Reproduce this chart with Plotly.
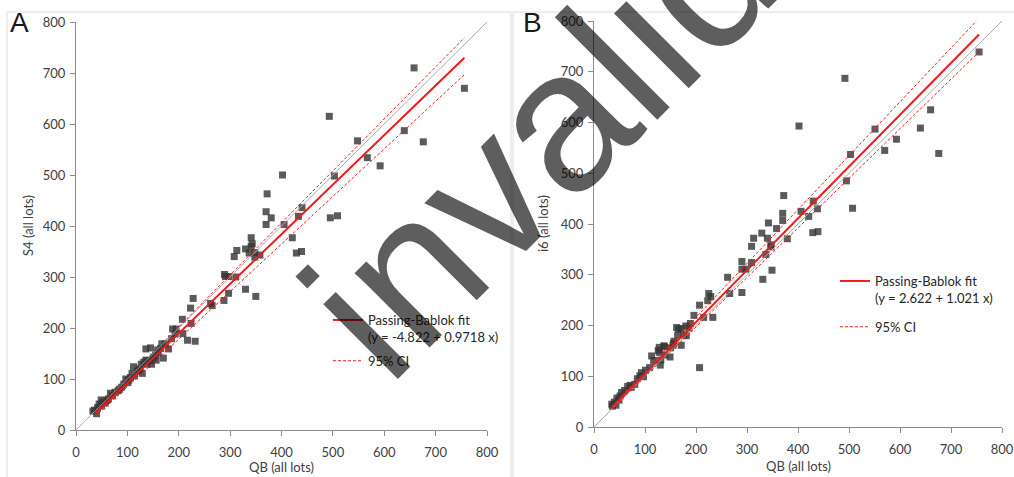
import plotly.graph_objects as go

# the page body margin is removed after plotting (see post_script), so positions are window pixels
W, H = 1014, 477

# Panel A: QB vs S4 (all lots)
qb_a = [658, 756, 493, 548, 639, 676, 567, 592, 503, 402, 372, 370, 380, 440, 433, 495, 509, 370, 405, 341, 421, 439, 429,
        343, 341, 308, 313, 330, 337, 348, 358, 348, 289, 291, 297, 311, 330, 350, 288, 297, 262, 265, 228, 223, 224, 232,
        217, 207, 208, 195, 188, 180, 167, 174, 170, 186, 136, 145,
        193, 159, 155, 151, 156, 144, 136, 132, 127, 138, 147, 112, 122, 129, 109, 114, 106, 97, 101, 93, 89, 82, 76, 67,
        71, 63, 57, 49, 45, 50, 42, 36, 33, 40, 120, 125, 140, 150, 160, 165, 102, 85, 60, 53]
s4_a = [710, 670, 615, 567, 587, 565, 534, 518, 498, 500, 463, 428, 416, 436, 419, 416, 420, 403, 403, 377, 377, 350, 347,
        365, 360, 340, 352, 355, 347, 348, 343, 339, 305, 301, 301, 300, 276, 262, 254, 268, 248, 244, 258, 239, 209, 174,
        176, 217, 189, 198, 198, 159, 169, 169, 141, 179, 159, 161,
        188, 157, 147, 143, 137, 135, 137, 133, 129, 129, 129, 124, 118, 111, 111, 106, 103, 100, 93, 90, 84, 77, 74, 72,
        67, 61, 53, 59, 51, 47, 44, 39, 37, 32, 115, 120, 135, 140, 152, 160, 98, 80, 58, 55]

# Panel B: QB vs i6 (all lots)
qb_b = [755, 492, 402, 660, 640, 551, 593, 570, 676, 503, 495, 507, 372, 430, 406, 370, 438, 421, 342, 370, 329, 358, 429,
        439, 313, 340, 379,
        347, 347, 309, 337, 290, 309, 290, 298, 349, 262, 331, 266, 290, 225, 229, 223, 207, 196, 215, 233,
        207, 186, 171, 181, 162, 166, 164, 157, 156, 155, 150, 149, 137, 138, 128, 128, 126, 139, 131, 130, 113, 117, 109,
        101, 93, 90, 97, 85, 80, 71, 66, 73, 60, 54, 51, 45, 49, 40, 35, 36, 43, 189, 180, 171, 176]
i6_b = [739, 687, 593, 625, 589, 587, 567, 545, 539, 537, 485, 431, 456, 445, 425, 421, 430, 415, 402, 407, 382, 391, 383,
        385, 372, 372, 371,
        359, 355, 356, 340, 326, 324, 311, 311, 309, 295, 291, 263, 265, 263, 257, 249, 240, 220, 216, 216,
        117, 195, 161, 180, 196, 193, 181, 169, 165, 161, 156, 138, 160, 158, 147, 157, 151, 142, 132, 122, 140, 131, 117,
        112, 107, 101, 99, 95, 84, 82, 80, 78, 72, 68, 61, 57, 53, 49, 45, 41, 43, 204, 199, 194, 181]

# Passing-Bablok fits (intercept, slope) and 95% CI bands
fit_a = (-4.822, 0.9718)
ci_hi_a = (-1.7, 1.0195)
ci_lo_a = (-8.5, 0.933)
span_a = [37, 756]
fit_b = (2.622, 1.021)
ci_hi_b = (3.8, 1.0615)
ci_lo_b = (1.5, 0.977)
span_b = [35, 755]
identity = [0, 800]

label_a = "Passing-Bablok fit<br>(y = -4.822 + 0.9718 x)"
label_b = "Passing-Bablok fit<br>(y = 2.622 + 1.021 x)"

POINT = "rgba(53,53,53,0.81)"
RED = "#ee1c1c"
FONT = "Lato"
TEXT = "#404040"


def px(x):
    return x / W


def py(y):
    return 1 - y / H


def line_y(coef, xs):
    return [coef[0] + coef[1] * x for x in xs]


fig = go.Figure()

panels = [
    ("x", "y", "legend", qb_a, s4_a, fit_a, ci_hi_a, ci_lo_a, span_a, label_a),
    ("x2", "y2", "legend2", qb_b, i6_b, fit_b, ci_hi_b, ci_lo_b, span_b, label_b),
]
for xa, ya, leg, xs, ys, fit, hi, lo, span, label in panels:
    fig.add_trace(go.Scatter(x=xs, y=ys, mode="markers", xaxis=xa, yaxis=ya, showlegend=False,
                             marker={"symbol": "square", "size": 7, "color": POINT, "line": {"width": 0}}))
    fig.add_trace(go.Scatter(x=identity, y=identity, mode="lines", xaxis=xa, yaxis=ya, showlegend=False,
                             line={"color": "#a9a9a9", "width": 1}))
    fig.add_trace(go.Scatter(x=span, y=line_y(fit, span), mode="lines", xaxis=xa, yaxis=ya, name=label,
                             legend=leg, legendgroup="fit", line={"color": RED, "width": 2}))
    fig.add_trace(go.Scatter(x=span, y=line_y(hi, span), mode="lines", xaxis=xa, yaxis=ya, name="95% CI",
                             legend=leg, legendgroup="ci", line={"color": RED, "width": 1, "dash": "3px,2px"}))
    fig.add_trace(go.Scatter(x=span, y=line_y(lo, span), mode="lines", xaxis=xa, yaxis=ya, showlegend=False,
                             legendgroup="ci", line={"color": RED, "width": 1, "dash": "3px,2px"}))

axis_style = {
    "range": [0, 800],
    "dtick": 100,
    "showgrid": False,
    "zeroline": False,
    "showline": True,
    "linecolor": "#8c8c8c",
    "linewidth": 1,
    "ticks": "outside",
    "ticklen": 5,
    "tickcolor": "#8c8c8c",
    "automargin": False,
    "ticklabeloverflow": "allow",
    "tickfont": {"family": FONT, "size": 13, "color": TEXT},
}
legend_style = {
    "xanchor": "left",
    "yanchor": "top",
    "bgcolor": "rgba(0,0,0,0)",
    "font": {"family": FONT, "size": 13, "color": "#262626"},
    "valign": "top",
    "traceorder": "grouped",
}


def paper_text(text, x, y, size=13, angle=0, family=FONT, color=TEXT, xanchor="center"):
    return {"text": text, "xref": "paper", "yref": "paper", "x": px(x), "y": py(y), "xanchor": xanchor,
            "yanchor": "middle", "textangle": angle, "showarrow": False,
            "font": {"family": family, "size": size, "color": color}}


fig.update_layout(
    width=W,
    height=H,
    margin={"l": 0, "r": 0, "t": 0, "b": 0},
    plot_bgcolor="white",
    paper_bgcolor="white",
    hovermode=False,
    xaxis={**axis_style, "domain": [px(76), px(487)], "anchor": "y", "ticklabelstandoff": 5},
    yaxis={**axis_style, "domain": [py(430), py(22)], "anchor": "x", "ticklabelstandoff": 2},
    xaxis2={**axis_style, "domain": [px(594), px(1002)], "anchor": "y2", "ticklabelstandoff": 5},
    yaxis2={**axis_style, "domain": [py(427), py(21)], "anchor": "x2", "ticklabelstandoff": 2},
    legend={**legend_style, "x": px(328), "y": py(305), "tracegroupgap": 4},
    legend2={**legend_style, "x": px(835), "y": py(266), "tracegroupgap": 9},
    shapes=[
        {"type": "rect", "xref": "paper", "yref": "paper", "x0": px(7), "x1": px(511), "y0": -0.05,
         "y1": py(12), "line": {"color": "#dcdcdc", "width": 1}, "layer": "below"},
        {"type": "rect", "xref": "paper", "yref": "paper", "x0": px(513), "x1": 1.05, "y0": -0.05,
         "y1": py(12), "line": {"color": "#dcdcdc", "width": 1}, "layer": "below"},
    ],
    annotations=[
        paper_text("QB (all lots)", 281.5, 467),
        paper_text("QB (all lots)", 798, 466),
        paper_text("S4 (all lots)", 28, 226, angle=-90),
        paper_text("i6 (all lots)", 543, 224, angle=-90),
        paper_text("A", 8, 23, size=28, family="Liberation Sans", color="#1a1a1a", xanchor="left"),
        paper_text("B", 521, 23, size=28, family="Liberation Sans", color="#1a1a1a", xanchor="left"),
        paper_text("invalid", 539, 139, size=200, angle=-45, family="Liberation Sans", color="rgba(0,0,0,0.63)"),
    ],
)

fig.write_html(
    "out.html",
    config={"displayModeBar": False},
    post_script="document.body.style.margin='0';document.body.style.overflow='hidden';",
)
